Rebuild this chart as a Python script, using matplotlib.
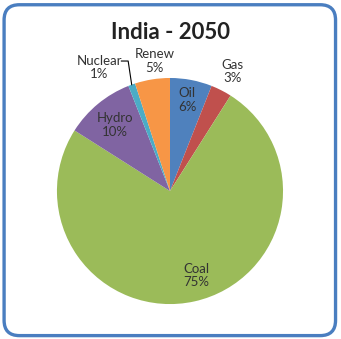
import numpy as np
import matplotlib; matplotlib.use("Agg"); import matplotlib.pyplot as plt
from matplotlib.patches import FancyBboxPatch

plt.rcParams["font.family"] = ["Lato", "DejaVu Sans"]

sources = ["Oil", "Gas", "Coal", "Hydro", "Nuclear", "Renew"]
shares = [6, 3, 75, 10, 1, 5]
colors = ["#4F81BD", "#C0504D", "#9BBB59", "#8064A2", "#4BACC6", "#F79646"]
# label placement: radius (in pie radii) and angle offset from wedge middle (deg)
lab_r = [0.82, 1.19, 0.78, 0.76, 1.26, 1.16]
lab_da = [0, -0.5, 4.6, 0, 10, -2.4]

fig = plt.figure(figsize=(3.41, 3.39), dpi=100)
# rounded blue frame
fig.patches.append(FancyBboxPatch((0.012, 0.010), 0.972, 0.976, boxstyle="round,pad=0,rounding_size=0.045",
                                  transform=fig.transFigure, fc="white", ec="#4A7EC0", lw=2.4, zorder=1))
fig.text(0.5, 0.905, "India - 2050", ha="center", va="center", fontsize=16, fontweight="bold",
         color="#222222", zorder=3)

ax = fig.add_axes([0.167, 0.103, 0.663, 0.667])
ax.set_zorder(2)
wedges, _ = ax.pie(shares, colors=colors, startangle=90, counterclock=False,
                   wedgeprops=dict(linewidth=0))
ax.set_xlim(-1, 1); ax.set_ylim(-1, 1); ax.set_aspect("equal")
ax.axis("off")

for w, name, v, r, da in zip(wedges, sources, shares, lab_r, lab_da):
    mid = np.deg2rad((w.theta1 + w.theta2) / 2 + da)
    ax.text(r * np.cos(mid), r * np.sin(mid), f"{name}\n{v}%", ha="center", va="center",
            fontsize=9.5, color="#333333", linespacing=1.15, clip_on=False)

# leader line for Nuclear
nw = wedges[4]
m = np.deg2rad((nw.theta1 + nw.theta2) / 2)
ax.plot([-0.43, -0.37, 1.0 * np.cos(m)], [1.15, 1.15, 1.0 * np.sin(m)], color="black", lw=0.8, clip_on=False)

fig.savefig("out.png", dpi=100)
